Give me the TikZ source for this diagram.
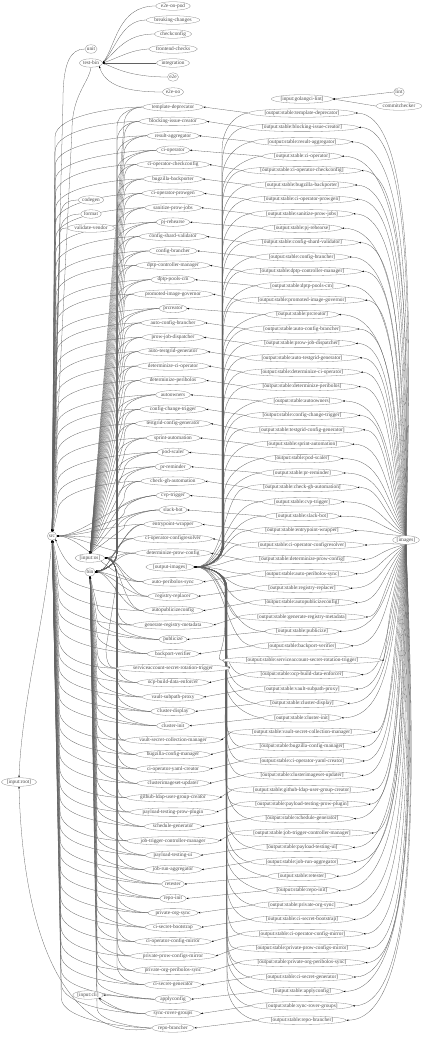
\documentclass[tikz,border=0pt]{standalone}
\usepackage{fontspec}
\setmainfont{Liberation Serif}
\usetikzlibrary{shapes.geometric,arrows.meta,calc}
\pgfdeclarelayer{bg}
\pgfsetlayers{bg,main}
\tikzset{
 nd/.style={ellipse, draw=black!45, fill=white, line width=0.3pt, inner xsep=0.2pt, inner ysep=0pt, minimum height=8.5pt, font=\fontsize{5.3}{5.6}\selectfont, text=black!70},
 ed/.style={draw=black!62, line width=0.28pt, -{Stealth[length=2.2pt,width=1.6pt,black]}},
}
\begin{document}
\begin{tikzpicture}[x=1pt,y=-1pt]
\useasboundingbox (0,0) rectangle (422,1040);
% tests
\node[nd] (t0) at (173,6) {e2e-on-pod};
\node[nd] (t1) at (173,20) {breaking-changes};
\node[nd] (t2) at (173,34) {checkconfig};
\node[nd] (t3) at (173,49) {frontend-checks};
\node[nd] (t4) at (173,63) {integration};
\node[nd] (t5) at (173,77) {e2e};
\node[nd] (t6) at (173,92) {e2e-oo};
\node[nd] (unit) at (91,49) {unit};
\node[nd] (tb) at (91,63) {test-bin};
\node[nd] (cg) at (91,200) {codegen};
\node[nd] (fm) at (91,214) {format};
\node[nd] (vv) at (91,228) {validate-vendor};
\node[nd] (src) at (52,536) {src};
\node[nd] (os) at (90,558) {[input:os]};
\node[nd] (bin) at (90,572) {bin};
\node[nd] (root) at (19,782) {[input:root]};
\node[nd] (cli) at (88,995) {[input:cli]};
\node[nd] (mid) at (170,567) {[output-images]};
\node[nd] (img) at (406,540) {[images]};
\node[nd] (gl) at (302,99) {[input:golangci-lint]};
\node[nd] (lint) at (399,92) {lint};
\node[nd] (cc) at (399,106) {commitchecker};
% image nodes
\foreach \lab [count=\i from 0] in {template-deprecator,blocking-issue-creator,result-aggregator,ci-operator,ci-operator-checkconfig,bugzilla-backporter,ci-operator-prowgen,sanitize-prow-jobs,pj-rehearse,config-shard-validator,config-brancher,dptp-controller-manager,dptp-pools-cm,promoted-image-governor,prcreator,auto-config-brancher,prow-job-dispatcher,auto-testgrid-generator,determinize-ci-operator,determinize-peribolos,autoowners,config-change-trigger,testgrid-config-generator,sprint-automation,pod-scaler,pr-reminder,check-gh-automation,cvp-trigger,slack-bot,entrypoint-wrapper,ci-operator-configresolver,determinize-prow-config,auto-peribolos-sync,registry-replacer,autopublicizeconfig,generate-registry-metadata,publicize,backport-verifier,serviceaccount-secret-rotation-trigger,ocp-build-data-enforcer,vault-subpath-proxy,cluster-display,cluster-init,vault-secret-collection-manager,bugzilla-config-manager,ci-operator-yaml-creator,clusterimageset-updater,github-ldap-user-group-creator,payload-testing-prow-plugin,schedule-generator,job-trigger-controller-manager,payload-testing-ui,job-run-aggregator,retester,repo-init,private-org-sync,ci-secret-bootstrap,ci-operator-config-mirror,private-prow-configs-mirror,private-org-peribolos-sync,ci-secret-generator,applyconfig,sync-rover-groups,repo-brancher} {
  \pgfmathsetmacro\k{\i<32 ? \i : \i+1}
  \pgfmathsetmacro\yx{107+14.39*\k}
  \pgfmathsetmacro\yo{113+14.4*\i}
  \node[nd] (x\i) at (173,\yx) {\lab};
  \node[nd] (o\i) at (302,\yo) {[output:stable:\lab]};
}
\begin{pgfonlayer}{bg}
% tests -> test-bin
\draw[ed] (t0.west) .. controls (118,6) and (116,45) .. (tb.east);
\draw[ed] (t1.west) .. controls (122,20) and (116,48) .. (tb.east);
\draw[ed] (t2.west) .. controls (125,34) and (116,52) .. (tb.east);
\draw[ed] (t3.west) .. controls (130,50) and (118,58) .. (tb.east);
\draw[ed] (t4.west) -- (tb.east);
\draw[ed] (t5.west) .. controls (130,77) and (115,68) .. (tb.east);
\draw[ed] (t6.west) .. controls (125,92) and (105,85) .. (tb.south east);
% lint
\draw[ed] (lint.west) -- (gl.east);
\draw[ed] (cc.west) -- (gl.east);
% to src
\draw[ed] (unit.west) .. controls +(-14,0) and (63,62) .. (63,100) -- (src);
\draw[ed] (tb.south) .. controls +(-2,15) and (72,95) .. (72,130) -- (src);
\draw[ed] (cg.west) .. controls +(-12,0) and (60,205) .. (60,220) -- (src);
\draw[ed] (fm.west) .. controls +(-12,0) and (60,219) .. (60,234) -- (src);
\draw[ed] (vv.west) .. controls +(-10,0) and (60,233) .. (60,248) -- (src);
\draw[ed] (bin.west) .. controls +(-15,0) and (60,552) .. (src.south east);
\draw[ed] (src.south) .. controls (45,620) and (22,700) .. (root.north);
\draw[ed] (x63.west) .. controls +(-50,12) and (25,1000) .. (root.south);
\draw[ed] (x61.west) -- (cli.east);
\draw[ed] (x62.west) .. controls +(-25,0) and +(12,6) .. (cli.south east);
\foreach \i in {0,...,63} {
  \pgfmathsetmacro\k{\i<32 ? \i : \i+1}
  \pgfmathsetmacro\yx{107+14.39*\k}
  \pgfmathsetmacro\yo{113+14.4*\i}
  % output -> image
  \draw[ed] (o\i.west) -- (x\i.east);
  % [images] -> output
  \pgfmathsetmacro\dI{abs(540-\yo)}
  \pgfmathsetmacro\bxr{376+0.085*\dI}
  \ifdim\yo pt<540pt
    \draw[ed] (img.north) .. controls (\bxr,{540-0.55*\dI}) and (\bxr,\yo) .. (o\i.east);
  \else
    \draw[ed] (img.south) .. controls (\bxr,{540+0.55*\dI}) and (\bxr,\yo) .. (o\i.east);
  \fi
  % output -> mid
  \pgfmathsetmacro\dm{566-\yo}
  \pgfmathsetmacro\bm{222+0.08*\i}
  \ifdim\dm pt>80pt
    \draw[ed] (o\i.west) .. controls +(-8,0) and (\bm,{\yo+10}) .. (\bm,{\yo+38}) -- (\bm,544) .. controls (\bm,560) and (208,567) .. (mid.east);
  \else\ifdim\dm pt<-80pt
    \draw[ed] (o\i.west) .. controls +(-8,0) and (\bm,{\yo-10}) .. (\bm,{\yo-38}) -- (\bm,588) .. controls (\bm,572) and (208,567) .. (mid.east);
  \else
    \draw[ed] (o\i.west) .. controls (\bm,\yo) and (\bm,567) .. (mid.east);
  \fi\fi
  % image -> src
  \pgfmathsetmacro\ds{536-\yx}
  \pgfmathsetmacro\bs{55+0.1*\i}
  \ifdim\ds pt>50pt
    \draw[ed] (x\i.west) .. controls +(-25,0) and (\bs,{\yx+8}) .. (\bs,{\yx+30}) -- (src);
  \else\ifdim\ds pt<-50pt
    \draw[ed] (x\i.west) .. controls +(-25,0) and (\bs,{\yx-8}) .. (\bs,{\yx-30}) -- (src);
  \else
    \draw[ed] (x\i.west) .. controls +(-30,0) and +(25,0) .. (src.east);
  \fi\fi
  % image -> bin and image -> [input:os]
  \pgfmathsetmacro\db{566-\yx}
  \pgfmathsetmacro\bb{\i==38 ? 106 : 117}
  \ifdim\db pt>50pt
    \draw[ed] (x\i.west) .. controls +(-8,0) and (124,{\yx+5}) .. (124,{\yx+18}) -- (os.north);
    \draw[ed] (x\i.west) .. controls +(-6,0) and (117,{\yx+4}) .. (117,{\yx+20}) -- (117,552) .. controls (117,562) and (110,568) .. (bin.east);
  \else\ifdim\db pt<-50pt
    \draw[ed] (x\i.west) .. controls +(-12,0) and (97,{\yx-6}) .. (97,{\yx-20}) -- (bin.south);
    \ifnum\i<61
    \draw[ed] (x\i.west) .. controls +(-6,0) and (\bb,{\yx-4}) .. (\bb,{\yx-20}) -- (117,580) .. controls (117,566) and (112,558) .. (os.east);
    \fi
  \else
    \draw[ed] (x\i.west) .. controls +(-20,0) and +(15,0) .. (bin.east);
    \draw[ed] (x\i.west) .. controls +(-20,0) and +(15,0) .. (os.east);
  \fi\fi
}
\end{pgfonlayer}
\end{tikzpicture}
\end{document}
